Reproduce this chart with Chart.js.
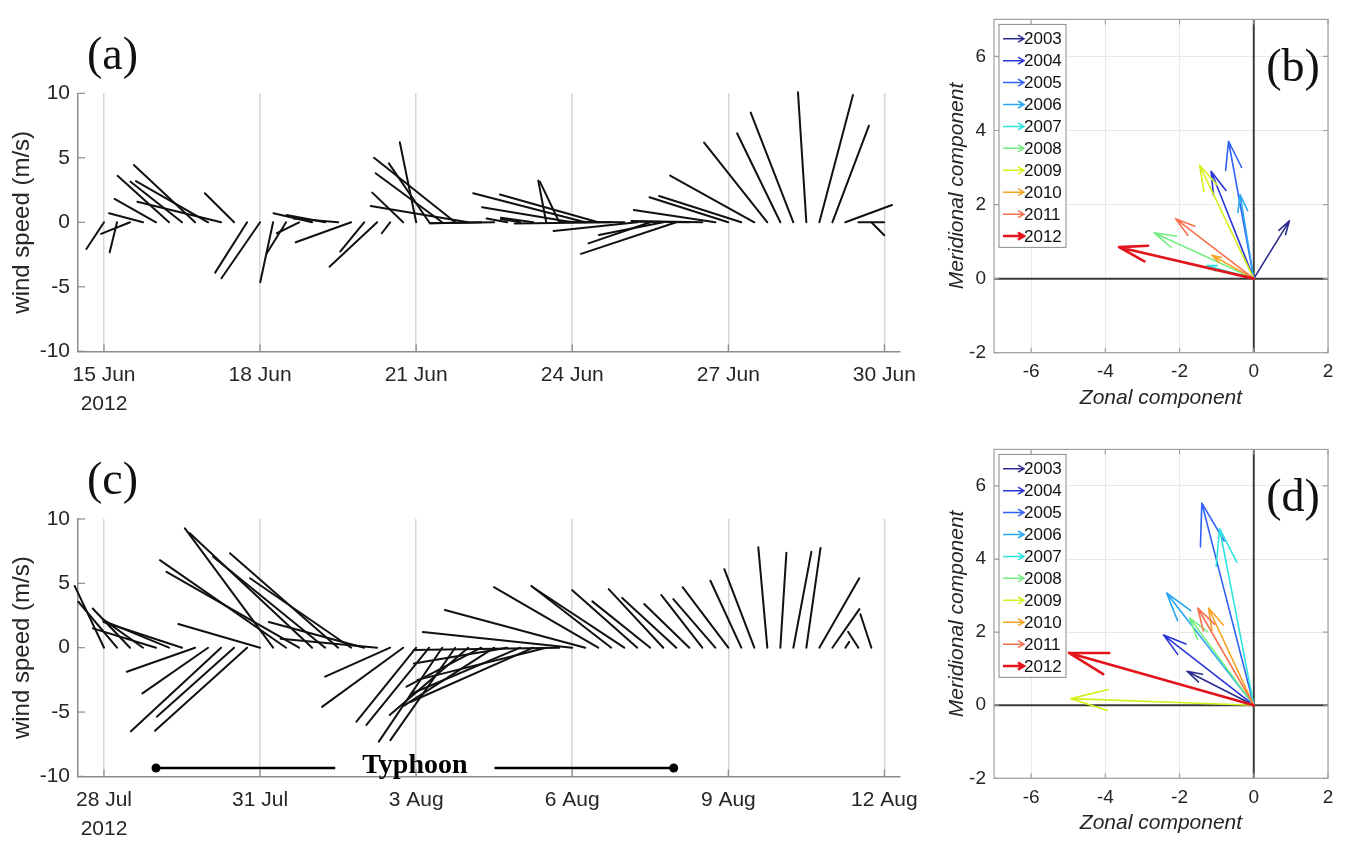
<!DOCTYPE html>
<html lang="en">
<head>
<meta charset="UTF-8">
<title>Wind sticks and mean wind vectors, 2012</title>
<style>
  body { margin: 0; background: #fff; }
  .wrap { position: relative; width: 1349px; height: 843px; overflow: hidden; }
  canvas { position: absolute; }
</style>
</head>
<body>
<div class="wrap">
  <canvas id="stickA" width="940" height="430" style="left:0;top:0"></canvas>
  <canvas id="stickC" width="940" height="413" style="left:0;top:430px"></canvas>
  <canvas id="quivB" width="409" height="430" style="left:940px;top:0"></canvas>
  <canvas id="quivD" width="409" height="413" style="left:940px;top:430px"></canvas>
</div>

<script src="https://cdn.jsdelivr.net/npm/chart.js"></script>
<script>
// ---- data ----
// (a) 6-hourly wind sticks, 15-30 Jun 2012 (day of June, u east, v north, m/s)
const daysA = [
  15.00, 15.25, 15.50, 15.75, 16.00, 16.25, 16.50, 16.75, 17.00, 17.25,
  17.50, 17.75, 18.00, 18.25, 18.50, 18.75, 19.00, 19.25, 19.50, 19.75,
  20.00, 20.25, 20.50, 20.75, 21.00, 21.25, 21.50, 21.75, 22.00, 22.25,
  22.50, 22.75, 23.00, 23.25, 23.50, 23.75, 24.00, 24.25, 24.50, 24.75,
  25.00, 25.25, 25.50, 25.75, 26.00, 26.25, 26.50, 26.75, 27.00, 27.25,
  27.50, 27.75, 28.00, 28.25, 28.50, 28.75, 29.00, 29.25, 29.50, 29.75
];
const uA = [
  -1.37, -0.57, -2.25, -2.64, -3.22, -4.00, -4.00, -4.75, -5.60, -6.50,
  -2.27, -2.48, -3.00, -1.00, -1.50, -1.73, -3.00, -3.00, -3.46, -4.30,
  -1.86, -3.70, -0.65, -2.40, -1.27, -3.13, -5.17, -6.30, -7.57, -4.00,
  -5.00, -1.60, -1.50, -2.50, -0.62, -1.50, -7.00, -8.70, -7.64, -7.50,
  -5.00, -6.50, -4.80, -5.00, -7.40, -4.00, -5.50, -6.33, -6.12, -6.38,
  -6.54, -4.91, -3.36, -3.31, -0.65, 2.61, 2.84, 3.62, 2.00, 1.00
];
const vA = [
  -2.07, -2.33, -0.90, 0.70, 1.81, 3.60, 3.15, 4.44, 3.20, 1.60,
  2.25, -3.90, -4.34, -4.65, -2.40, -0.85, 0.70, 0.57, 0.30, -1.55,
  -2.27, -3.44, -0.85, 2.30, 6.20, 4.57, 3.80, 5.00, 1.27, -0.08,
  -0.08, 0.30, 0.25, 0.35, 3.23, 3.15, 1.16, 2.25, 2.15, -0.10,
  0.05, -0.67, -1.63, -0.98, -2.45, 0.05, 0.10, 0.96, 1.94, 2.04,
  3.62, 6.18, 6.90, 8.50, 10.08, 9.87, 7.49, 1.34, 0.00, -1.00
];
const tickDaysA = [15, 18, 21, 24, 27, 30];
const tickLabelsA = [['15 Jun', '2012'], '18 Jun', '21 Jun', '24 Jun', '27 Jun', '30 Jun'];

// (c) 6-hourly wind sticks, 28 Jul - 12 Aug 2012 (days after 28 Jul 00:00)
const daysC = [
  0.00, 0.25, 0.50, 0.75, 1.00, 1.25, 1.50, 1.75, 2.00, 2.25,
  2.50, 2.75, 3.00, 3.25, 3.50, 3.75, 4.00, 4.25, 4.50, 4.75,
  5.00, 5.25, 5.50, 5.75, 6.00, 6.25, 6.50, 6.75, 7.00, 7.25,
  7.50, 7.75, 8.00, 8.25, 8.50, 8.75, 9.00, 9.25, 9.50, 9.75,
  10.00, 10.25, 10.50, 10.75, 11.00, 11.25, 11.50, 11.75, 12.00, 12.25,
  12.50, 12.75, 13.00, 13.25, 13.50, 13.75, 14.00, 14.25, 14.50, 14.75
];
const uC = [
  -2.28, -3.00, -2.90, -3.10, -4.90, -5.10, -6.10, -5.30, -5.10, -7.00,
  -6.00, -7.15, -6.35, -6.85, -9.80, -10.30, -9.50, -8.70, -8.40, -7.85,
  -7.40, -7.50, -5.05, -6.30, -4.64, -4.87, -4.92, -5.03, -6.09, -5.80,
  -7.00, -7.25, -8.50, -9.50, -10.00, -11.30, -11.60, -10.90, -8.10, -6.20,
  -7.10, -5.05, -4.50, -4.24, -4.20, -3.50, -3.19, -3.26, -3.55, -2.40,
  -2.33, -0.70, 0.47, 1.40, 1.10, 3.10, 2.10, 0.30, -0.80, -0.85
];
const vC = [
  4.80, 3.57, 3.05, 2.20, 1.50, 2.10, 2.00, -1.87, -3.55, -6.50,
  -5.36, -6.45, 1.84, 9.27, 6.80, 5.90, 8.90, 7.07, 7.33, 5.40,
  2.00, 0.70, -2.25, -4.60, -5.75, -6.00, -7.30, -7.18, -5.23, -3.03,
  -4.50, -1.22, -3.60, -4.20, -2.50, -0.18, 1.22, 2.93, 4.70, 4.80,
  4.70, 4.47, 3.60, 4.55, 3.87, 3.40, 4.10, 3.78, 4.70, 5.20,
  6.10, 7.80, 7.37, 7.45, 7.75, 5.40, 3.00, 0.45, 1.24, 2.60
];
const tickDaysC = [0, 3, 6, 9, 12, 15];
const tickLabelsC = [['28 Jul', '2012'], '31 Jul', '3 Aug', '6 Aug', '9 Aug', '12 Aug'];
const typhoonSpan = [1.0, 10.95];   // days after 28 Jul
const typhoonLevel = -9.35;         // m/s, where the bar sits

const stickTicksY = [-10, -5, 0, 5, 10];

// (b)/(d) mean wind vectors per year
const years = ['2003', '2004', '2005', '2006', '2007', '2008', '2009', '2010', '2011', '2012'];
const uJun = [0.96, -1.15, -0.68, -0.37, -1.26, -2.69, -1.46, -1.13, -2.11, -3.63];
const vJun = [1.56, 2.90, 3.71, 2.27, 0.35, 1.24, 3.06, 0.63, 1.62, 0.85];
const uAug = [-1.80, -2.43, -1.40, -2.35, -0.92, -1.73, -4.93, -1.22, -1.51, -4.98];
const vAug = [0.93, 1.92, 5.53, 3.07, 4.83, 2.39, 0.18, 2.66, 2.66, 1.43];
const quivTicksX = [-6, -4, -2, 0, 2];
const quivTicksY = [-2, 0, 2, 4, 6];

// ---- styling ----
const yearColors = ['#2d2d8f', '#2b36d8', '#2f62f5', '#2aa6f2', '#2de3df',
                    '#72ef7f', '#d5ef1f', '#f7a327', '#f8704c', '#e2141c'];
const FONT = "'Liberation Sans', Arial, Helvetica, sans-serif";
const SERIF = "'Liberation Serif', 'Times New Roman', serif";
const TXT = '#262626';
const stickK = 0.2475; // days of time axis per m/s, keeps stick angles true

Chart.defaults.font.family = FONT;

// small inward tick marks (and box for the vector panels)
const innerTicks = {
  id: 'innerTicks',
  afterDatasetsDraw(chart, args, opts) {
    const { ctx, chartArea: a } = chart;
    const len = opts.length || 6;
    ctx.save();
    ctx.strokeStyle = opts.color || '#888';
    ctx.lineWidth = 1.2;
    ['x', 'y'].forEach(id => {
      const s = chart.scales[id];
      s.ticks.forEach(t => {
        const p = s.getPixelForValue(t.value);
        ctx.beginPath();
        if (id === 'x') {
          ctx.moveTo(p, a.bottom); ctx.lineTo(p, a.bottom - len);
          if (opts.box) { ctx.moveTo(p, a.top); ctx.lineTo(p, a.top + len); }
        } else {
          ctx.moveTo(a.left, p); ctx.lineTo(a.left + len, p);
          if (opts.box) { ctx.moveTo(a.right, p); ctx.lineTo(a.right - len, p); }
        }
        ctx.stroke();
      });
    });
    if (opts.box) ctx.strokeRect(a.left, a.top, a.width, a.height);
    ctx.restore();
  }
};

// panel letters (a)..(d)
const panelText = {
  id: 'panelText',
  afterDraw(chart, args, opts) {
    if (!opts.text) return;
    const { ctx, chartArea: a } = chart;
    ctx.save();
    ctx.font = '46px ' + SERIF;
    ctx.fillStyle = '#111';
    ctx.textAlign = 'center';
    ctx.textBaseline = 'middle';
    const x = opts.fromRight ? a.right + opts.dx : a.left + opts.dx;
    ctx.fillText(opts.text, x, a.top + opts.dy);
    ctx.restore();
  }
};

// typhoon period bar in (c)
const typhoonBar = {
  id: 'typhoonBar',
  afterDatasetsDraw(chart, args, opts) {
    if (!opts.span) return;
    const { ctx } = chart;
    const xs = chart.scales.x, ys = chart.scales.y;
    const x0 = xs.getPixelForValue(opts.span[0]);
    const x1 = xs.getPixelForValue(opts.span[1]);
    const py = ys.getPixelForValue(opts.level);
    const mid = (x0 + x1) / 2;
    ctx.save();
    ctx.font = 'bold 28px ' + SERIF;
    const w = ctx.measureText(opts.text).width;
    ctx.strokeStyle = '#000';
    ctx.fillStyle = '#000';
    ctx.lineWidth = 2.5;
    ctx.beginPath();
    ctx.moveTo(x0, py); ctx.lineTo(mid - w / 2 - 27, py);
    ctx.moveTo(mid + w / 2 + 27, py); ctx.lineTo(x1, py);
    ctx.stroke();
    [x0, x1].forEach(px => {
      ctx.beginPath(); ctx.arc(px, py, 4.5, 0, Math.PI * 2); ctx.fill();
    });
    ctx.textAlign = 'center';
    ctx.textBaseline = 'middle';
    ctx.fillText(opts.text, mid, py - 2);
    ctx.restore();
  }
};

// legend with little arrows for the vector panels
const quiverLegend = {
  id: 'quiverLegend',
  afterDraw(chart, args, opts) {
    if (!opts.show) return;
    const { ctx, chartArea: a } = chart;
    const left = a.left + 5, top = a.top + 5, w = 67, row = 21.93;
    const h = 14.3 + row * (years.length - 1) + 11.3;
    ctx.save();
    ctx.fillStyle = '#fff';
    ctx.strokeStyle = '#8a8a8a';
    ctx.lineWidth = 1;
    ctx.fillRect(left, top, w, h);
    ctx.strokeRect(left, top, w, h);
    ctx.font = '17px ' + FONT;
    ctx.textBaseline = 'middle';
    ctx.textAlign = 'left';
    years.forEach((yr, i) => {
      const cy = top + 14.3 + i * row;
      const x0 = left + 4, x1 = left + 25;
      ctx.strokeStyle = yearColors[i];
      ctx.lineWidth = i === years.length - 1 ? 2.5 : 1.5;
      ctx.beginPath();
      ctx.moveTo(x0, cy); ctx.lineTo(x1, cy);
      ctx.moveTo(x1 - 6, cy - 3.5); ctx.lineTo(x1, cy); ctx.lineTo(x1 - 6, cy + 3.5);
      ctx.stroke();
      ctx.fillStyle = '#111';
      ctx.fillText(yr, left + 25, cy + 1);
    });
    ctx.restore();
  }
};

Chart.register(innerTicks, panelText, typhoonBar, quiverLegend);

function stickSets(days, u, v) {
  return days.map((d, i) => ({
    data: [{ x: d, y: 0 }, { x: d + u[i] * stickK, y: v[i] }],
    showLine: true,
    borderColor: '#111',
    borderWidth: 2,
    borderCapStyle: 'round',
    pointRadius: 0,
    clip: false
  }));
}

function stickChart(id, cfg) {
  return new Chart(document.getElementById(id), {
    type: 'scatter',
    data: { datasets: stickSets(cfg.days, cfg.u, cfg.v) },
    options: {
      responsive: false,
      animation: false,
      events: [],
      layout: { padding: { top: cfg.top, right: 40, left: 0, bottom: 0 } },
      plugins: {
        legend: { display: false },
        tooltip: { enabled: false },
        innerTicks: { length: 7, box: false, color: '#8c8c8c' },
        panelText: { text: cfg.letter, dx: 34.5, dy: -36.6 },
        typhoonBar: cfg.typhoon || {}
      },
      scales: {
        x: {
          type: 'linear',
          min: cfg.xmin,
          max: cfg.xmax,
          afterFit: s => { s.height = cfg.xh; },
          afterBuildTicks: s => { s.ticks = cfg.tickDays.map(value => ({ value })); },
          grid: { color: '#d6d6d6', lineWidth: 1.5, drawTicks: false },
          border: { color: '#8c8c8c', width: 1.5 },
          ticks: {
            padding: 9, color: TXT, autoSkip: false, maxRotation: 0,
            font: { size: 21, lineHeight: 1.4 },
            callback: (val, i) => cfg.tickLabels[i]
          }
        },
        y: {
          min: -10,
          max: 10,
          afterFit: s => { s.width = 78; },
          afterBuildTicks: s => { s.ticks = stickTicksY.map(value => ({ value })); },
          grid: { display: false, drawTicks: false },
          border: { color: '#8c8c8c', width: 1.5 },
          ticks: { padding: 8, color: TXT, font: { size: 21 }, callback: v => String(v) },
          title: {
            display: true, text: 'wind speed (m/s)', color: TXT,
            font: { size: 24 }, padding: { top: 8, bottom: 0 }
          }
        }
      }
    }
  });
}

function arrowPoints(u, v) {
  const L = Math.hypot(u, v), h = 0.21 * L, a = 16 * Math.PI / 180;
  const ang = Math.atan2(v, u);
  return [
    { x: 0, y: 0 },
    { x: u, y: v },
    { x: u - h * Math.cos(ang - a), y: v - h * Math.sin(ang - a) },
    { x: u, y: v },
    { x: u - h * Math.cos(ang + a), y: v - h * Math.sin(ang + a) }
  ];
}

function quiverChart(id, cfg) {
  const sets = years.map((yr, i) => ({
    label: yr,
    data: arrowPoints(cfg.u[i], cfg.v[i]),
    showLine: true,
    borderColor: yearColors[i],
    borderWidth: i === years.length - 1 ? 2.6 : 1.6,
    borderJoinStyle: 'round',
    borderCapStyle: 'round',
    pointRadius: 0,
    order: years.length - i
  }));
  // axes through the origin
  sets.push({ data: [{ x: -7, y: 0 }, { x: 2, y: 0 }], showLine: true, borderColor: '#3a3a3a',
              borderWidth: 2, pointRadius: 0, order: 20 });
  sets.push({ data: [{ x: 0, y: -2 }, { x: 0, y: 7 }], showLine: true, borderColor: '#3a3a3a',
              borderWidth: 2, pointRadius: 0, order: 20 });

  const gridOpts = { color: '#e9e9e9', lineWidth: 1, drawTicks: false };
  return new Chart(document.getElementById(id), {
    type: 'scatter',
    data: { datasets: sets },
    options: {
      responsive: false,
      animation: false,
      events: [],
      layout: { padding: { top: cfg.top, right: 21, left: 0, bottom: 0 } },
      plugins: {
        legend: { display: false },
        tooltip: { enabled: false },
        innerTicks: { length: 5, box: true, color: '#a0a0a0' },
        panelText: { text: cfg.letter, dx: -35, dy: 50, fromRight: true },
        quiverLegend: { show: true }
      },
      scales: {
        x: {
          type: 'linear', min: -7, max: 2,
          afterFit: s => { s.height = cfg.xh; },
          afterBuildTicks: s => { s.ticks = quivTicksX.map(value => ({ value })); },
          grid: gridOpts,
          border: { display: false },
          ticks: { padding: 8, color: TXT, font: { size: 19 } },
          title: {
            display: true, text: 'Zonal component', color: TXT,
            font: { size: 21, style: 'italic' }, padding: { top: 0, bottom: cfg.titlePad }
          }
        },
        y: {
          min: -2, max: 7,
          afterFit: s => { s.width = 54; },
          afterBuildTicks: s => { s.ticks = quivTicksY.map(value => ({ value })); },
          grid: gridOpts,
          border: { display: false },
          ticks: { padding: 8, color: TXT, font: { size: 19 } },
          title: {
            display: true, text: 'Meridional component', color: TXT,
            font: { size: 21, style: 'italic' }, padding: { top: 5, bottom: 0 }
          }
        }
      }
    }
  });
}

stickChart('stickA', {
  days: daysA, u: uA, v: vA, tickDays: tickDaysA, tickLabels: tickLabelsA,
  xmin: 14.5, xmax: 30.3, top: 93.3, xh: 78.7, letter: '(a)'
});
stickChart('stickC', {
  days: daysC, u: uC, v: vC, tickDays: tickDaysC, tickLabels: tickLabelsC,
  xmin: -0.5, xmax: 15.3, top: 89, xh: 66.6, letter: '(c)',
  typhoon: { span: typhoonSpan, level: typhoonLevel, text: 'Typhoon' }
});
quiverChart('quivB', { u: uJun, v: vJun, top: 10, xh: 77.3, titlePad: 19.4, letter: '(b)' });
quiverChart('quivD', { u: uAug, v: vAug, top: 5, xh: 64.7, titlePad: 7.1, letter: '(d)' });
</script>
</body>
</html>
